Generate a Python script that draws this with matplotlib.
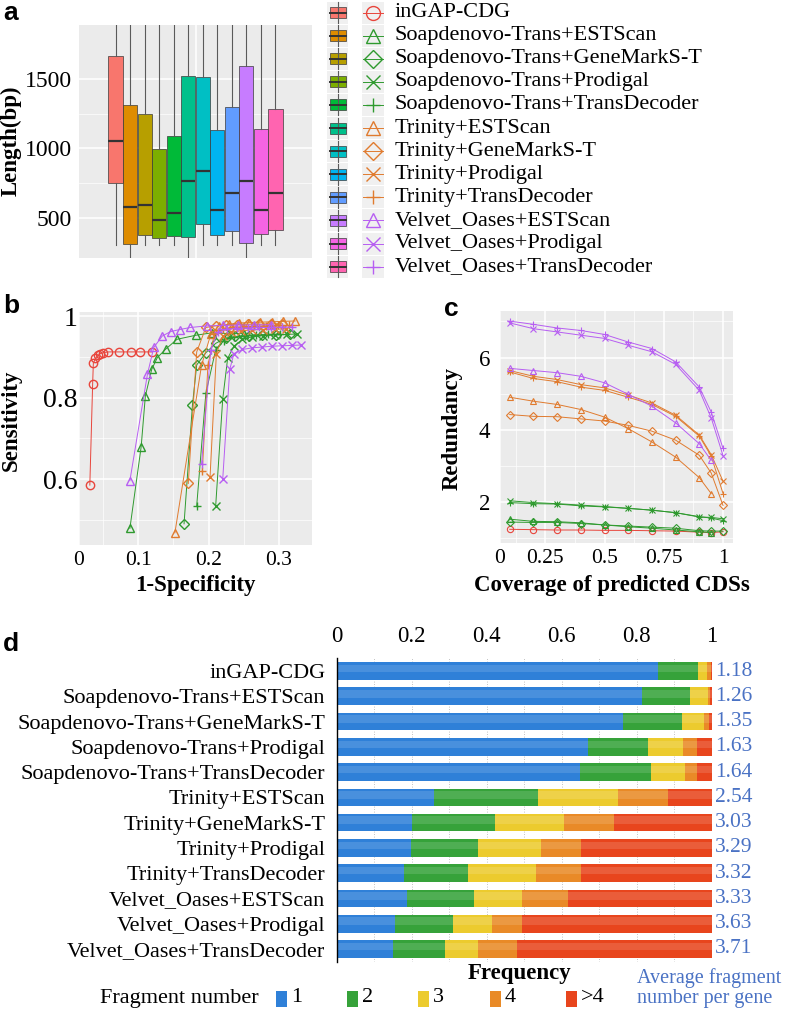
import matplotlib
matplotlib.use("Agg")
import matplotlib.pyplot as plt
from matplotlib.patches import Rectangle
from matplotlib.lines import Line2D

W, H = 787, 1014
DPI = 100
SERIF = ["Liberation Serif", "DejaVu Serif"]
plt.rcParams["font.family"] = SERIF

# ---------------------------------------------------------------- data
METHODS = [
    "inGAP-CDG",
    "Soapdenovo-Trans+ESTScan",
    "Soapdenovo-Trans+GeneMarkS-T",
    "Soapdenovo-Trans+Prodigal",
    "Soapdenovo-Trans+TransDecoder",
    "Trinity+ESTScan",
    "Trinity+GeneMarkS-T",
    "Trinity+Prodigal",
    "Trinity+TransDecoder",
    "Velvet_Oases+ESTScan",
    "Velvet_Oases+Prodigal",
    "Velvet_Oases+TransDecoder",
]
BOX_COLORS = ["#F8766D", "#DE8C00", "#B79F00", "#7CAE00", "#00BA38", "#00C08B",
              "#00BFC4", "#00B4F0", "#619CFF", "#C77CFF", "#F564E3", "#FF64B0"]

# panel a: length distribution (bp)
BOX_Q1 = [754, 313, 376, 359, 369, 366, 457, 378, 409, 321, 383, 412]
BOX_MED = [1055, 577, 591, 488, 538, 768, 837, 555, 680, 768, 560, 682]
BOX_Q3 = [1667, 1309, 1249, 995, 1089, 1519, 1512, 1132, 1299, 1593, 1139, 1280]
BOX_WLO = [304, 150, 304, 304, 304, 150, 304, 304, 304, 150, 304, 304]
BOX_WHI = [2700, 2500, 2400, 2100, 2200, 2800, 2800, 2300, 2500, 2900, 2300, 2500]

# assembler colour / predictor marker (panels b and c)
ASM_COLOR = {"inGAP": "#e8453c", "Soap": "#2f9a2f", "Trinity": "#e07b2f", "Velvet": "#b75ef2"}
SERIES_STYLE = [
    ("inGAP", "o"), ("Soap", "^"), ("Soap", "D"), ("Soap", "x"), ("Soap", "+"),
    ("Trinity", "^"), ("Trinity", "D"), ("Trinity", "x"), ("Trinity", "+"),
    ("Velvet", "^"), ("Velvet", "x"), ("Velvet", "+"),
]

# panel b: 1-specificity / sensitivity
ROC_X_INGAP = [0.031, 0.035, 0.036, 0.039, 0.043, 0.046, 0.050, 0.057, 0.073, 0.089, 0.103, 0.120]
ROC_Y_INGAP = [0.585, 0.833, 0.884, 0.896, 0.904, 0.908, 0.910, 0.912, 0.912, 0.912, 0.912, 0.912]
ROC_X_SOAP_EST = [0.088, 0.104, 0.110, 0.119, 0.127, 0.139, 0.155, 0.182, 0.205, 0.228, 0.250]
ROC_Y_SOAP_EST = [0.479, 0.679, 0.804, 0.869, 0.898, 0.919, 0.943, 0.953, 0.959, 0.957, 0.957]
ROC_X_SOAP_GMS = [0.165, 0.177, 0.183, 0.196, 0.210, 0.224, 0.238, 0.257, 0.276, 0.296, 0.315]
ROC_Y_SOAP_GMS = [0.490, 0.782, 0.880, 0.910, 0.933, 0.946, 0.950, 0.952, 0.953, 0.954, 0.955]
ROC_X_SOAP_PRO = [0.210, 0.220, 0.227, 0.236, 0.248, 0.262, 0.278, 0.295, 0.311, 0.326]
ROC_Y_SOAP_PRO = [0.534, 0.796, 0.896, 0.926, 0.943, 0.949, 0.952, 0.954, 0.955, 0.956]
ROC_X_SOAP_TD = [0.183, 0.196, 0.210, 0.222, 0.236, 0.252, 0.268, 0.285, 0.302]
ROC_Y_SOAP_TD = [0.534, 0.810, 0.917, 0.940, 0.948, 0.952, 0.954, 0.955, 0.956]
ROC_X_TRI_EST = [0.152, 0.190, 0.203, 0.215, 0.229, 0.243, 0.257, 0.273, 0.290, 0.306, 0.323]
ROC_Y_TRI_EST = [0.468, 0.880, 0.955, 0.976, 0.980, 0.983, 0.984, 0.985, 0.986, 0.987, 0.988]
ROC_X_TRI_GMS = [0.171, 0.183, 0.196, 0.210, 0.225, 0.240, 0.256, 0.272, 0.289, 0.305]
ROC_Y_TRI_GMS = [0.589, 0.912, 0.972, 0.976, 0.978, 0.979, 0.980, 0.980, 0.981, 0.981]
ROC_X_TRI_PRO = [0.202, 0.211, 0.220, 0.232, 0.246, 0.262, 0.278, 0.294, 0.310]
ROC_Y_TRI_PRO = [0.606, 0.908, 0.950, 0.960, 0.964, 0.966, 0.967, 0.968, 0.968]
ROC_X_TRI_TD = [0.191, 0.199, 0.208, 0.220, 0.234, 0.249, 0.265, 0.281, 0.298, 0.314]
ROC_Y_TRI_TD = [0.620, 0.880, 0.955, 0.968, 0.972, 0.974, 0.975, 0.976, 0.977, 0.977]
ROC_X_VEL_EST = [0.088, 0.113, 0.122, 0.134, 0.146, 0.159, 0.174, 0.198, 0.220, 0.242, 0.265, 0.288]
ROC_Y_VEL_EST = [0.596, 0.858, 0.923, 0.951, 0.962, 0.967, 0.972, 0.976, 0.977, 0.978, 0.978, 0.979]
ROC_X_VEL_PRO = [0.220, 0.230, 0.236, 0.248, 0.262, 0.276, 0.290, 0.304, 0.318, 0.332]
ROC_Y_VEL_PRO = [0.599, 0.869, 0.908, 0.918, 0.922, 0.924, 0.926, 0.927, 0.928, 0.929]
ROC_X_VEL_TD = [0.190, 0.203, 0.213, 0.226, 0.241, 0.256, 0.272, 0.288, 0.304, 0.318]
ROC_Y_VEL_TD = [0.638, 0.917, 0.960, 0.968, 0.970, 0.971, 0.972, 0.972, 0.973, 0.973]

# panel c: coverage / redundancy
COVERAGE = [0.1, 0.2, 0.3, 0.4, 0.5, 0.6, 0.7, 0.8, 0.9, 0.95, 1.0]
RED_INGAP = [1.24, 1.23, 1.22, 1.22, 1.21, 1.21, 1.20, 1.19, 1.16, 1.15, 1.17]
RED_SOAP_EST = [1.52, 1.46, 1.45, 1.42, 1.36, 1.31, 1.27, 1.22, 1.17, 1.15]
RED_SOAP_GMS = [1.44, 1.43, 1.43, 1.40, 1.36, 1.33, 1.30, 1.27, 1.20, 1.19, 1.19]
RED_SOAP_PRO = [2.03, 1.98, 1.95, 1.91, 1.87, 1.82, 1.77, 1.70, 1.58, 1.57, 1.53]
RED_SOAP_TD = [1.98, 1.95, 1.94, 1.89, 1.86, 1.82, 1.77, 1.70, 1.59, 1.55, 1.48]
RED_TRI_EST = [4.90, 4.79, 4.70, 4.56, 4.35, 4.03, 3.66, 3.24, 2.67, 2.23]
RED_TRI_GMS = [4.42, 4.37, 4.36, 4.30, 4.24, 4.12, 3.96, 3.71, 3.29, 2.80, 1.90]
RED_TRI_PRO = [5.64, 5.48, 5.39, 5.25, 5.16, 4.96, 4.74, 4.40, 3.85, 3.31, 2.57]
RED_TRI_TD = [5.60, 5.42, 5.33, 5.18, 5.09, 4.90, 4.70, 4.37, 3.82, 3.27, 2.23]
RED_VEL_EST = [5.70, 5.64, 5.58, 5.48, 5.30, 4.98, 4.65, 4.19, 3.61, 3.15]
RED_VEL_PRO = [6.96, 6.80, 6.71, 6.62, 6.53, 6.34, 6.16, 5.81, 5.09, 4.33, 3.28]
RED_VEL_TD = [7.01, 6.92, 6.82, 6.75, 6.64, 6.43, 6.25, 5.88, 5.18, 4.49, 3.48]

# panel d: fragment number frequency
FRAG_1 = [0.857, 0.813, 0.762, 0.669, 0.648, 0.259, 0.202, 0.198, 0.179, 0.188, 0.155, 0.150]
FRAG_2 = [0.106, 0.128, 0.158, 0.161, 0.190, 0.278, 0.221, 0.178, 0.172, 0.179, 0.156, 0.138]
FRAG_3 = [0.024, 0.048, 0.060, 0.093, 0.091, 0.212, 0.182, 0.169, 0.179, 0.126, 0.104, 0.089]
FRAG_4 = [0.010, 0.006, 0.012, 0.037, 0.031, 0.135, 0.133, 0.107, 0.122, 0.124, 0.080, 0.105]
FRAG_GT4 = [0.003, 0.005, 0.008, 0.040, 0.040, 0.116, 0.262, 0.348, 0.348, 0.383, 0.505, 0.518]
AVG_FRAG = [1.18, 1.26, 1.35, 1.63, 1.64, 2.54, 3.03, 3.29, 3.32, 3.33, 3.63, 3.71]
FRAG_LABELS = ["1", "2", "3", "4", ">4"]
FRAG_COLORS = ["#2f80d8", "#36a23a", "#eccb2e", "#e98a27", "#e8451d"]

ROC_SERIES = [
    (ROC_X_INGAP, ROC_Y_INGAP), (ROC_X_SOAP_EST, ROC_Y_SOAP_EST), (ROC_X_SOAP_GMS, ROC_Y_SOAP_GMS),
    (ROC_X_SOAP_PRO, ROC_Y_SOAP_PRO), (ROC_X_SOAP_TD, ROC_Y_SOAP_TD), (ROC_X_TRI_EST, ROC_Y_TRI_EST),
    (ROC_X_TRI_GMS, ROC_Y_TRI_GMS), (ROC_X_TRI_PRO, ROC_Y_TRI_PRO), (ROC_X_TRI_TD, ROC_Y_TRI_TD),
    (ROC_X_VEL_EST, ROC_Y_VEL_EST), (ROC_X_VEL_PRO, ROC_Y_VEL_PRO), (ROC_X_VEL_TD, ROC_Y_VEL_TD),
]
RED_SERIES = [RED_INGAP, RED_SOAP_EST, RED_SOAP_GMS, RED_SOAP_PRO, RED_SOAP_TD, RED_TRI_EST,
              RED_TRI_GMS, RED_TRI_PRO, RED_TRI_TD, RED_VEL_EST, RED_VEL_PRO, RED_VEL_TD]

fig = plt.figure(figsize=(W / DPI, H / DPI), dpi=DPI)


def px_axes(x0, y0, x1, y1):
    return fig.add_axes([x0 / W, 1 - y1 / H, (x1 - x0) / W, (y1 - y0) / H])


def gg_panel(ax):
    ax.set_facecolor("#EBEBEB")
    for s in ax.spines.values():
        s.set_visible(False)
    ax.set_axisbelow(True)
    ax.grid(which="major", color="white", lw=1.1)
    ax.grid(which="minor", color="white", lw=0.5)
    ax.tick_params(which="both", length=0)


# ---------------------------------------------------------------- panel a
ax_a = px_axes(79, 25, 312, 258)
gg_panel(ax_a)
stats = [dict(q1=q1, med=m, q3=q3, whislo=lo, whishi=hi)
         for q1, m, q3, lo, hi in zip(BOX_Q1, BOX_MED, BOX_Q3, BOX_WLO, BOX_WHI)]
pos = list(range(1, len(stats) + 1))
bp = ax_a.bxp(stats, positions=pos, widths=0.98, patch_artist=True, showfliers=False,
              showcaps=False,
              boxprops=dict(edgecolor="#3a3a3a", lw=0.5),
              medianprops=dict(color="#333333", lw=1.6),
              whiskerprops=dict(color="#5a5a5a", lw=0.8))
for patch, c in zip(bp["boxes"], BOX_COLORS):
    patch.set_facecolor(c)
ax_a.set_xlim(-1.52, 14.52)
ax_a.set_ylim(213, 1887)
ax_a.set_xticks([6.5], labels=[""])
ax_a.set_yticks([500, 1000, 1500])
ax_a.set_yticks([750, 1250], minor=True)
ax_a.tick_params(axis="y", labelsize=17, pad=5)

# ---------------------------------------------------------------- panel b
ax_b = px_axes(79, 312, 312, 545)
gg_panel(ax_b)
for (xs, ys), (asm, mk) in zip(ROC_SERIES, SERIES_STYLE):
    c = ASM_COLOR[asm]
    ax_b.plot(xs, ys, color=c, lw=0.7, marker=mk, ms=6 if mk != "D" else 5,
              mfc="none", mec=c, mew=1.0)
ax_b.set_xlim(0.0156, 0.347)
ax_b.set_ylim(0.438, 1.01)
ax_b.set_xticks([0.1, 0.2, 0.3], labels=["0.1", "0.2", "0.3"])
ax_b.set_xticks([0.0156, 0.05, 0.15, 0.25], labels=["0", "", "", ""], minor=True)
ax_b.set_yticks([0.6, 0.8, 1.0], labels=["0.6", "0.8", "1"])
ax_b.set_yticks([0.5, 0.7, 0.9], minor=True)
ax_b.tick_params(axis="x", which="both", labelsize=15.5, pad=4)
ax_b.tick_params(axis="y", labelsize=20, pad=1)

# ---------------------------------------------------------------- panel c
ax_c = px_axes(500, 311, 733, 543)
gg_panel(ax_c)
for ys, (asm, mk) in zip(RED_SERIES, SERIES_STYLE):
    c = ASM_COLOR[asm]
    ax_c.plot(COVERAGE[:len(ys)], ys, color=c, lw=0.7, marker=mk, ms=4.5 if mk != "D" else 3.8,
              mfc="none", mec=c, mew=0.8)
ax_c.set_xlim(0.059, 1.042)
ax_c.set_ylim(0.86, 7.29)
ax_c.set_xticks([0.25, 0.5, 0.75, 1.0], labels=["0.25", "0.5", "0.75", "1"])
ax_c.set_xticks([0.059, 0.125, 0.375, 0.625, 0.875], labels=["0", "", "", "", ""], minor=True)
ax_c.set_yticks([2, 4, 6])
ax_c.set_yticks([1, 3, 5, 7], minor=True)
ax_c.tick_params(axis="x", which="both", labelsize=15.5, pad=4)
ax_c.tick_params(axis="y", labelsize=16.5, pad=7)

# ---------------------------------------------------------------- panel d
ax_d = px_axes(336.5, 658.4, 712, 961.6)
rows = list(range(len(METHODS)))
left = [0.0] * len(METHODS)
for vals, c in zip([FRAG_1, FRAG_2, FRAG_3, FRAG_4, FRAG_GT4], FRAG_COLORS):
    ax_d.barh(rows, vals, left=left, height=0.7, color=c, lw=0)
    # soft highlight on the upper half, like the glossy bars of the original
    ax_d.barh([r - 0.1 for r in rows], vals, left=left, height=0.3, color="white",
              alpha=0.13, lw=0)
    left = [l + v for l, v in zip(left, vals)]
ax_d.set_xlim(0, 1)
ax_d.set_ylim(len(METHODS) - 0.5, -0.5)
for s in ["top", "right", "bottom"]:
    ax_d.spines[s].set_visible(False)
ax_d.spines["left"].set_linewidth(1.0)
ax_d.xaxis.tick_top()
ax_d.set_xticks([0, 0.2, 0.4, 0.6, 0.8, 1.0], labels=["0", "0.2", "0.4", "0.6", "0.8", "1"])
ax_d.set_xticks([0.1, 0.3, 0.5, 0.7, 0.9], minor=True)
ax_d.set_axisbelow(True)
ax_d.grid(axis="x", which="both", color="#b0b0b0", lw=0.6, ls=(0, (1, 2)))
ax_d.set_yticks(rows, labels=METHODS)
ax_d.tick_params(which="both", length=0)
ax_d.tick_params(axis="x", labelsize=16.5, pad=8)
ax_d.tick_params(axis="y", labelsize=16, pad=8)
for r, a in zip(rows, AVG_FRAG):
    ax_d.text(1.008, r, f"{a:.2f}", transform=ax_d.get_yaxis_transform(), ha="left",
              va="center", fontsize=15.5, color="#4a72c4")

# ---------------------------------------------------------------- overlay (legends, titles)
ov = fig.add_axes([0, 0, 1, 1])
ov.set_xlim(0, W)
ov.set_ylim(H, 0)
ov.axis("off")

for i, (name, bc, (asm, mk)) in enumerate(zip(METHODS, BOX_COLORS, SERIES_STYLE)):
    yc = 12.5 + 23.1 * i
    ov.add_patch(Rectangle((327, yc - 11), 21, 22, fc="#F0F0F0", lw=0))
    ov.add_patch(Rectangle((362, yc - 11), 22, 22, fc="#F0F0F0", lw=0))
    ov.add_line(Line2D([337.5, 337.5], [yc - 10.5, yc + 10.5], color="#5a5a5a", lw=0.8))
    ov.add_patch(Rectangle((329.5, yc - 5.5), 16, 11, fc=bc, ec="#3a3a3a", lw=0.5))
    ov.add_line(Line2D([329.5, 345.5], [yc, yc], color="#333333", lw=1.4))
    c = ASM_COLOR[asm]
    ov.add_line(Line2D([363, 383], [yc, yc], color=c, lw=0.7))
    ov.plot([373], [yc], marker=mk, ms=10 if mk != "D" else 9, mfc="none", mec=c, mew=1.0)
    ov.text(395, yc, name, fontsize=16, ha="left", va="center")

bold = dict(fontweight="bold", fontsize=16.5, ha="center", va="center")
ov.text(11, 141, "Length(bp)", rotation=90, **bold)
ov.text(11, 420, "Sensitivity", rotation=90, **bold)
ov.text(195, 585, "1-Specificity", **bold)
ov.text(452, 428, "Redundancy", rotation=90, **bold)
ov.text(612, 585, "Coverage of predicted CDSs", **bold)
ov.text(520, 973, "Frequency", **bold)

lab = dict(fontweight="bold", fontsize=19, ha="center", va="center",
           family=["Liberation Sans", "DejaVu Sans"])
ov.text(11, 13, "a", **lab)
ov.text(11, 306, "b", **lab)
ov.text(451, 309, "c", **lab)
ov.text(11, 644, "d", **lab)

ov.text(100, 998, "Fragment number", fontsize=16, ha="left", va="center")
for x0, txt, c in zip([276, 347, 418, 490, 566], FRAG_LABELS, FRAG_COLORS):
    ov.add_patch(Rectangle((x0, 991), 10.5, 16, fc=c, lw=0))
    ov.text(x0 + 15, 998, txt, fontsize=16, ha="left", va="center")
ov.text(637, 978, "Average fragment", fontsize=14.5, ha="left", va="center", color="#4a72c4")
ov.text(637, 999, "number per gene", fontsize=14.5, ha="left", va="center", color="#4a72c4")

fig.savefig("out.png", dpi=DPI)
